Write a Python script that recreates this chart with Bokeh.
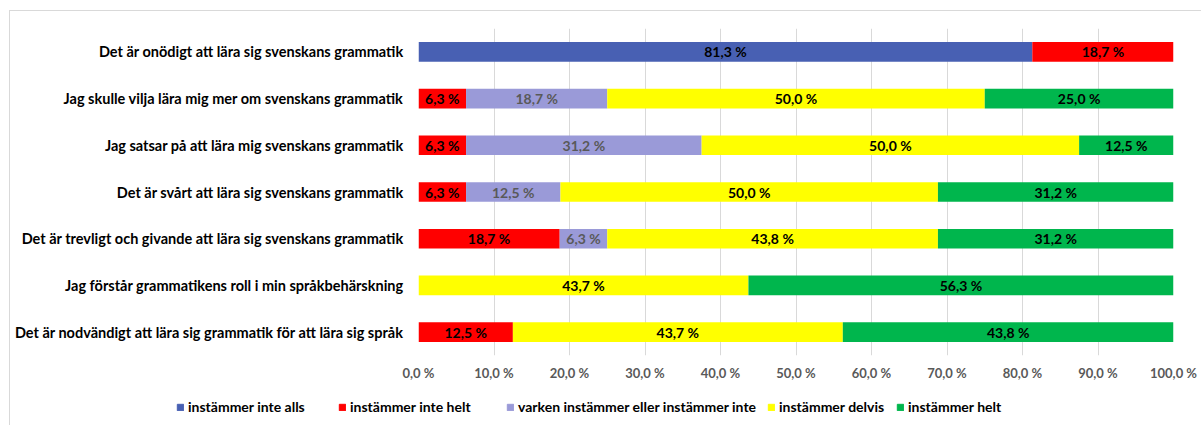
from bokeh.plotting import figure
from bokeh.layouts import column
from bokeh.models import ColumnDataSource, FactorRange, Range1d, Legend, LegendItem, FixedTicker
from bokeh.core.properties import value
from bokeh.embed import file_html
from bokeh.resources import INLINE

categories = [
    "Det är onödigt att lära sig svenskans grammatik",
    "Jag skulle vilja lära mig mer om svenskans grammatik",
    "Jag satsar på att lära mig svenskans grammatik",
    "Det är svårt att lära sig svenskans grammatik",
    "Det är trevligt och givande att lära sig svenskans grammatik",
    "Jag förstår grammatikens roll i min språkbehärskning",
    "Det är nodvändigt att lära sig grammatik för att lära sig språk",
]
series_names = [
    "instämmer inte alls",
    "instämmer inte helt",
    "varken instämmer eller instämmer inte",
    "instämmer delvis",
    "instämmer helt",
]
inte_alls = [81.3, 0, 0, 0, 0, 0, 0]
inte_helt = [18.7, 6.3, 6.3, 6.3, 18.7, 0, 12.5]
varken = [0, 18.7, 31.2, 12.5, 6.3, 0, 0]
delvis = [0, 50.0, 50.0, 50.0, 43.8, 43.7, 43.7]
helt = [0, 25.0, 12.5, 31.2, 31.2, 56.3, 43.8]
tick_values = [0, 10, 20, 30, 40, 50, 60, 70, 80, 90, 100]
tick_labels = ["0,0 %", "10,0 %", "20,0 %", "30,0 %", "40,0 %", "50,0 %",
               "60,0 %", "70,0 %", "80,0 %", "90,0 %", "100,0 %"]

colors = ["#4860B3", "#FF0000", "#9A9AD8", "#FFFF00", "#00B64D"]
label_colors = ["#000000", "#000000", "#595959", "#000000", "#000000"]
keys = ["s0", "s1", "s2", "s3", "s4"]
series = [inte_alls, inte_helt, varken, delvis, helt]

# layout: screen x of each legend entry inside the legend strip
legend_x = [166, 328, 496, 757, 886]

FONT = "Lato"

data = {"cat": categories}
for k, s in zip(keys, series):
    data[k] = s
src = ColumnDataSource(data)

p = figure(
    width=1191, height=377,
    y_range=FactorRange(factors=list(reversed(categories))),
    x_range=Range1d(0, 100),
    output_backend="svg", toolbar_location=None,
    min_border_left=408, min_border_right=28,
    min_border_top=17, min_border_bottom=33,
)
p.frame_align = False
p.outline_line_color = None
p.background_fill_color = "white"
p.border_fill_color = "white"

rs = p.hbar_stack(keys, y="cat", height=0.42, color=colors, source=src, line_color=None)

# value labels
lx, ly, lt, lc = [], [], [], []
for i, c in enumerate(categories):
    cum = 0.0
    for j, s in enumerate(series):
        v = s[i]
        if v > 0:
            lx.append(cum + v / 2)
            ly.append(c)
            lt.append(f"{v:.1f}".replace(".", ",") + " %")
            lc.append(label_colors[j])
        cum += v
lsrc = ColumnDataSource(dict(x=lx, y=ly, t=lt, c=lc))
p.text(x="x", y="y", text="t", text_color="c", source=lsrc,
       text_align="center", text_baseline="middle",
       text_font=value(FONT), text_font_style="bold", text_font_size="14px")

# axes
p.ygrid.grid_line_color = None
p.xgrid.grid_line_color = "#d9d9d9"
p.xgrid.grid_line_width = 1
p.xaxis.ticker = FixedTicker(ticks=tick_values)
p.xaxis.major_label_overrides = {t: l for t, l in zip(tick_values, tick_labels)}
p.xaxis.axis_line_color = None
p.xaxis.major_tick_line_color = None
p.xaxis.minor_tick_line_color = None
p.xaxis.major_tick_out = 0
p.xaxis.major_label_standoff = 9
p.xaxis.major_label_text_font = FONT
p.xaxis.major_label_text_font_style = "bold"
p.xaxis.major_label_text_font_size = "13px"
p.xaxis.major_label_text_color = "#595959"

p.yaxis.axis_line_color = None
p.yaxis.major_tick_line_color = None
p.yaxis.minor_tick_line_color = None
p.yaxis.major_tick_out = 0
p.yaxis.major_label_standoff = 15
p.yaxis.major_label_text_font = FONT
p.yaxis.major_label_text_font_style = "bold"
p.yaxis.major_label_text_font_size = "14.5px"
p.yaxis.major_label_text_color = "#000000"

# legend in its own strip below the chart
lg = figure(width=1191, height=37, x_range=Range1d(0, 1), y_range=Range1d(0, 1),
            output_backend="svg", toolbar_location=None,
            min_border_left=0, min_border_right=0, min_border_top=0, min_border_bottom=0)
lg.frame_align = False
lg.axis.visible = False
lg.grid.visible = False
lg.outline_line_color = None
hidden = ColumnDataSource(dict(y=[-5], l=[-5], r=[-4]))
for name, c, x in zip(series_names, colors, legend_x):
    r = lg.hbar(y="y", left="l", right="r", height=0.5, color=c, source=hidden)
    lg.add_layout(Legend(
        items=[LegendItem(label=name, renderers=[r])],
        orientation="horizontal", location=(x, 10),
        glyph_width=8, glyph_height=8, label_standoff=4,
        padding=0, margin=0, border_line_color=None, background_fill_alpha=0,
        label_text_font=FONT, label_text_font_style="bold", label_text_font_size="14px",
        label_text_color="#000000",
    ), "center")

layout = column(p, lg, spacing=0, margin=(10, 0, 0, 9),
                styles={"border-left": "1px solid #d9d9d9", "border-top": "1px solid #d9d9d9"})
open("out.html", "w").write(file_html(layout, INLINE))
